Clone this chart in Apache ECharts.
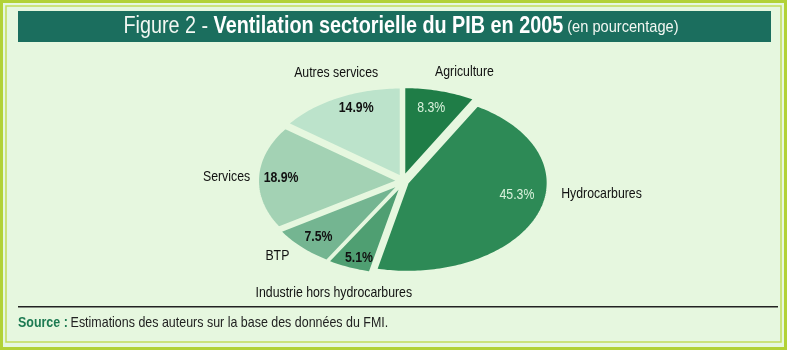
<!DOCTYPE html>
<html>
<head>
<meta charset="utf-8">
<script src="https://cdn.jsdelivr.net/npm/echarts@6/dist/echarts.min.js"></script>
<style>
html,body{margin:0;padding:0;background:#e6f7df;}
#c{width:787px;height:350px;}
</style>
</head>
<body>
<div id="c"></div>
<script>
// ---- data ----
var categories = ['Agriculture', 'Hydrocarbures', 'Industrie hors hydrocarbures', 'BTP', 'Services', 'Autres services'];
var values = [8.3, 45.3, 5.1, 7.5, 18.9, 14.9];
var valueLabels = ['8.3%', '45.3%', '5.1%', '7.5%', '18.9%', '14.9%'];

// ---- styles ----
var sliceColors = ['#1f7d47', '#2d8a56', '#4f9f72', '#74b591', '#a3d2b4', '#bce3cb'];
var innerLabelColors = ['#d9f2dc', '#d9f2dc', '#111', '#111', '#111', '#111'];
var innerLabelWeights = ['normal', 'normal', 'bold', 'bold', 'bold', 'bold'];
var BG = '#e6f7df';
var FONT = '"Liberation Sans","Helvetica","Arial",sans-serif';
var NARROW = 0.82;
// pie geometry (tilted / elliptical pie)
var PIE = {cx: 403, cy: 181, rx: 140, ry: 89, explode: 5, labelGap: 12, innerK: 0.8};
// layout nudges for labels (pixels)
var outerNudge = [[21, 1], [12, -33], [-10, 6], [-3, -8], [4, 0], [4, -6]];
var innerNudge = [[-2, 0], [5, -14], [0, 6], [-2, 2], [-5, 0], [6, -5]];

var total = values.reduce(function (a, b) { return a + b; }, 0);
var cum = [0];
values.forEach(function (v, i) { cum.push(cum[i] + v); });

function pt(t, kx, ky, ox, oy) {
  return [PIE.cx + ox + kx * Math.sin(t), PIE.cy + oy - ky * Math.cos(t)];
}

function renderItem(params, api) {
  var i = params.dataIndex;
  var t0 = cum[i] / total * Math.PI * 2;
  var t1 = cum[i + 1] / total * Math.PI * 2;
  var tm = (t0 + t1) / 2;
  var ox = PIE.explode * Math.sin(tm), oy = -PIE.explode * Math.cos(tm);
  var pts = [[PIE.cx + ox, PIE.cy + oy]];
  var n = Math.max(8, Math.ceil((t1 - t0) / 0.02));
  for (var k = 0; k <= n; k++) {
    var t = t0 + (t1 - t0) * k / n;
    pts.push(pt(t, PIE.rx, PIE.ry, ox, oy));
  }
  var s = Math.sin(tm), c = Math.cos(tm);
  var inner = pt(tm, PIE.rx * PIE.innerK, PIE.ry * PIE.innerK, ox, oy);
  var outer = pt(tm, PIE.rx + PIE.labelGap, PIE.ry + PIE.labelGap, ox, oy);
  var on = outerNudge[i] || [0, 0];
  var inn = innerNudge[i] || [0, 0];
  var align = s > 0.6 ? 'left' : (s < -0.6 ? 'right' : 'center');
  var valign = c > 0.3 ? 'bottom' : (c < -0.3 ? 'top' : 'middle');
  return {
    type: 'group',
    children: [
      {
        type: 'polygon',
        shape: {points: pts},
        style: {fill: sliceColors[i], stroke: BG, lineWidth: 2}
      },
      {
        type: 'text',
        x: inner[0] + inn[0], y: inner[1] + inn[1], scaleX: NARROW,
        style: {
          text: valueLabels[i], fill: innerLabelColors[i],
          font: innerLabelWeights[i] + ' 15px ' + FONT,
          align: 'center', verticalAlign: 'middle'
        }
      },
      {
        type: 'text',
        x: outer[0] + on[0], y: outer[1] + on[1], scaleX: NARROW,
        style: {
          text: categories[i], fill: '#111',
          font: 'normal 15px ' + FONT,
          align: align, verticalAlign: valign
        }
      }
    ]
  };
}

var chart = echarts.init(document.getElementById('c'), null, {renderer: 'canvas'});
chart.setOption({
  backgroundColor: BG,
  animation: false,
  graphic: [
    {type: 'rect', shape: {x: 1.5, y: 1.5, width: 784, height: 347}, style: {fill: 'none', stroke: '#b2d236', lineWidth: 3}},
    {type: 'rect', shape: {x: 6, y: 6, width: 775, height: 336}, style: {fill: 'none', stroke: '#c2dd5a', lineWidth: 1.5}},
    {type: 'rect', shape: {x: 18, y: 11, width: 753, height: 31}, style: {fill: '#1b6e5e'}},
    {type: 'rect', shape: {x: 18, y: 306, width: 760, height: 1.5}, style: {fill: '#222'}},
    {
      type: 'text', x: 401, y: 27, scaleX: 0.86,
      style: {
        text: '{a|Figure 2 - }{b|Ventilation sectorielle du PIB en 2005}{c| (en pourcentage)}',
        align: 'center', verticalAlign: 'middle',
        rich: {
          a: {fill: '#f2f7f2', font: 'normal 23px ' + FONT},
          b: {fill: '#ffffff', font: 'bold 23px ' + FONT},
          c: {fill: '#f2f7f2', font: 'normal 17px ' + FONT}
        }
      }
    },
    {
      type: 'text', x: 18, y: 323, scaleX: 0.83,
      style: {
        text: '{s|Source :} {t|Estimations des auteurs sur la base des données du FMI.}',
        align: 'left', verticalAlign: 'middle',
        rich: {
          s: {fill: '#1d7a52', font: 'bold 15px ' + FONT},
          t: {fill: '#222', font: 'normal 15px ' + FONT}
        }
      }
    }
  ],
  series: [{
    type: 'custom',
    coordinateSystem: 'none',
    data: values,
    renderItem: renderItem
  }]
});
</script>
</body>
</html>
